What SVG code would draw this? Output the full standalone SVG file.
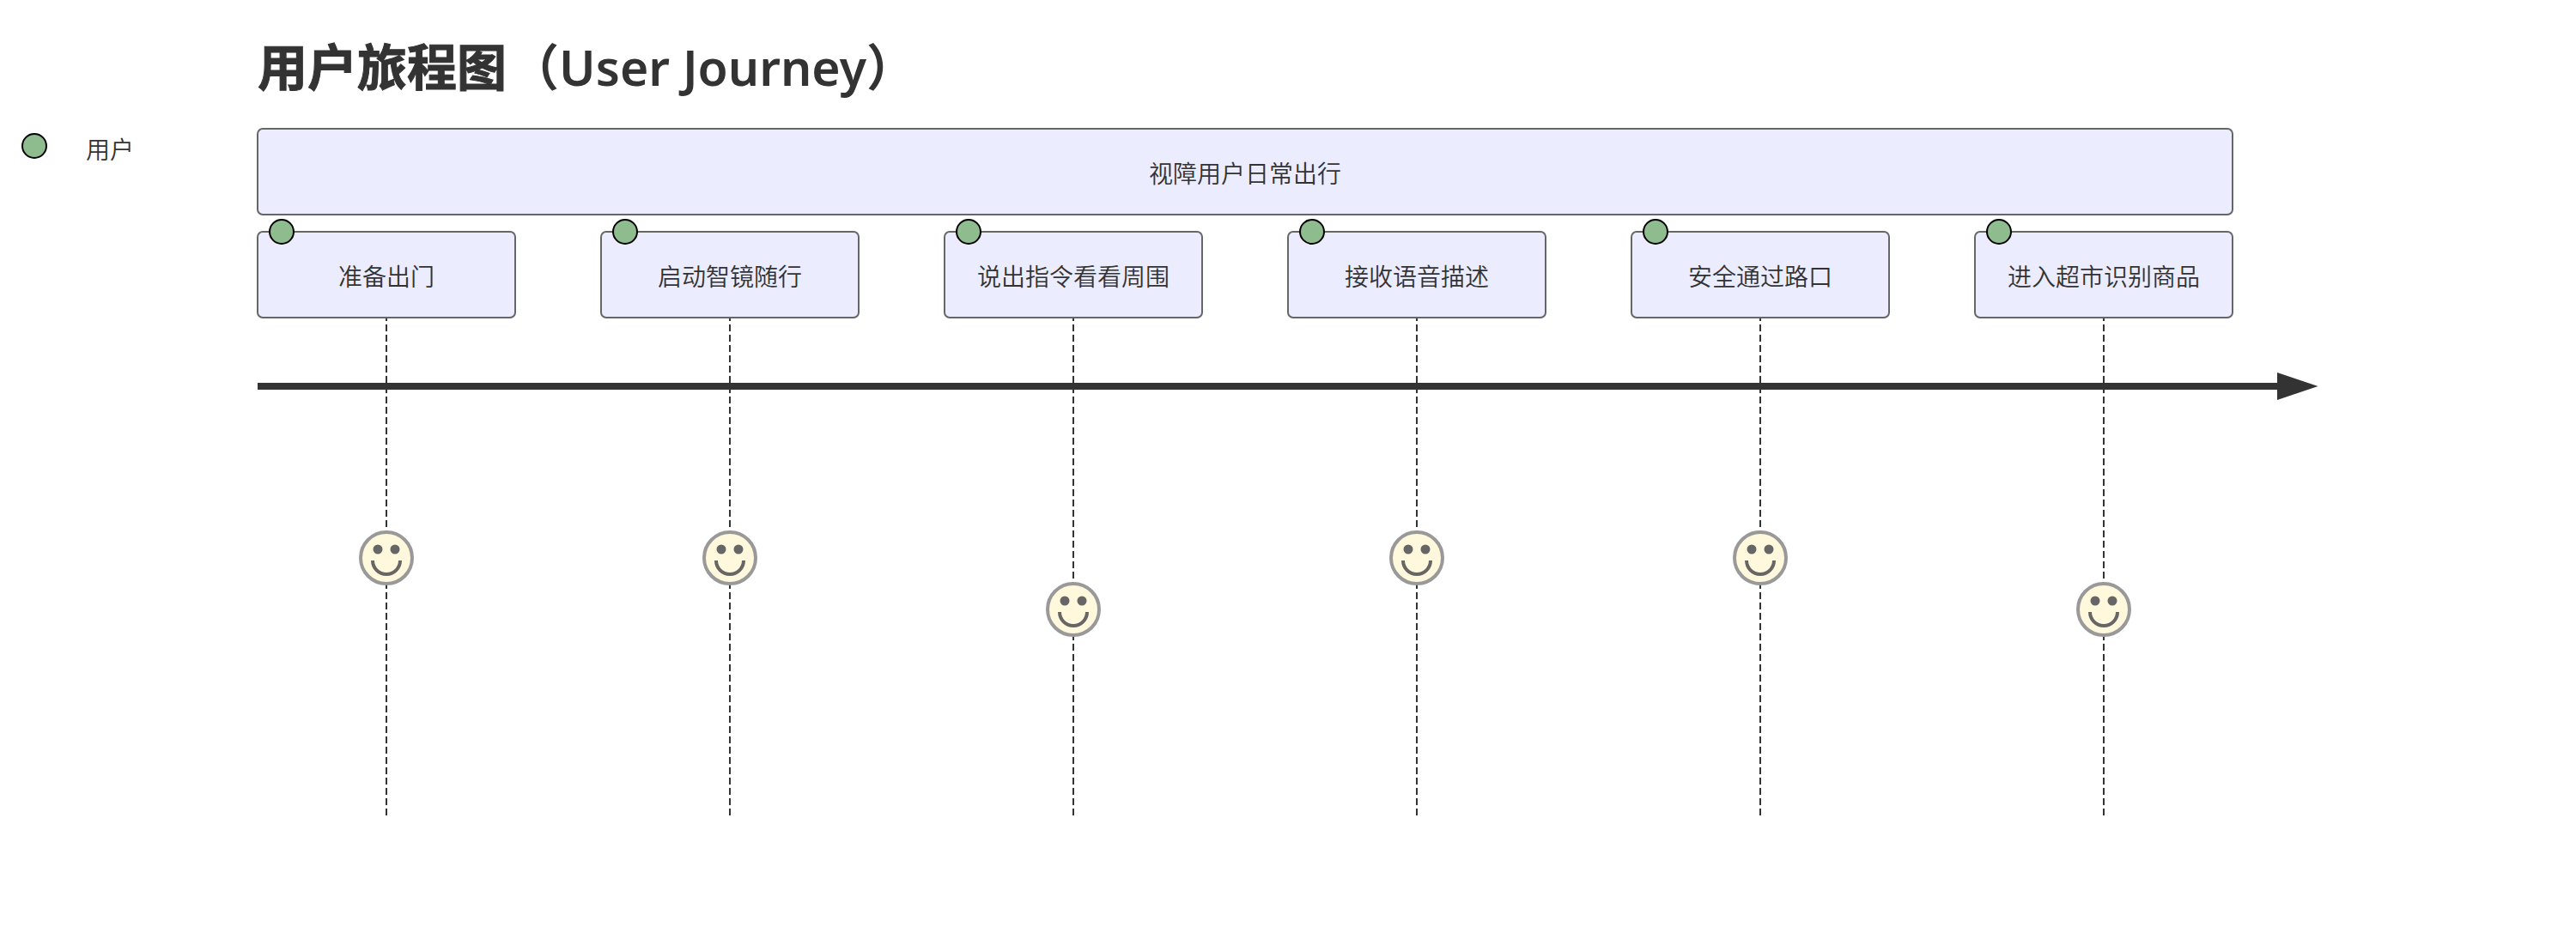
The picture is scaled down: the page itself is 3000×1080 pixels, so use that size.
<svg xmlns="http://www.w3.org/2000/svg" width="3000" height="1080" viewBox="0 0 3000 1080">
<style>
text{fill:#333}
.t{font-size:28px;font-weight:350;text-anchor:middle;font-family:"Noto Sans CJK SC",sans-serif}
.title{font-size:58px;font-family:"Noto Sans CJK SC",sans-serif}
.cjk{font-weight:700;stroke:#333;stroke-width:1}
.lat{font-weight:600;font-family:"Noto Sans","Noto Sans CJK SC",sans-serif}
.box{fill:#ECECFF;stroke:#666;stroke-width:2}
.dot{fill:#8FBC8F;stroke:#000;stroke-width:2}
.act{stroke:#333;stroke-width:2;stroke-dasharray:8 4;fill:none}
.face{fill:#FFF8DC;stroke:#999;stroke-width:4}
.eye{fill:#666}
.smile{fill:none;stroke:#666;stroke-width:4}
</style>
<defs>
<marker id="arrow" markerUnits="userSpaceOnUse" markerWidth="48" markerHeight="32" refX="0" refY="16" orient="auto"><path d="M0 0L47.5 16L0 32Z" fill="#333"/></marker>
<g id="happy"><circle class="face" r="30"/><circle class="eye" cx="-10" cy="-10" r="5.5"/><circle class="eye" cx="10" cy="-10" r="5.5"/><path class="smile" d="M-16 3A16 16 0 0 0 16 3"/></g>
</defs>
<text class="title" x="300" y="100"><tspan class="cjk">用户旅程图</tspan><tspan class="lat" x="594" textLength="472" lengthAdjust="spacingAndGlyphs">（User Journey）</tspan></text>
<g id="legend"><circle class="dot" cx="40" cy="170" r="14"/><text class="t" x="128" y="185">用户</text></g>
<g id="connectors">
<path class="act" d="M450 270V950"/><path class="act" d="M850 270V950"/><path class="act" d="M1250 270V950"/><path class="act" d="M1650 270V950"/><path class="act" d="M2050 270V950"/><path class="act" d="M2450 270V950"/>
<path d="M300 450H2652" stroke="#333" stroke-width="8" fill="none" marker-end="url(#arrow)"/>
</g>
<g id="section"><rect class="box" x="300" y="150" width="2300" height="100" rx="6"/><text class="t" x="1450" y="213">视障用户日常出行</text></g>
<g id="task1"><rect class="box" x="300" y="270" width="300" height="100" rx="6"/><circle class="dot" cx="328" cy="270" r="14"/><text class="t" x="450" y="333">准备出门</text><use href="#happy" x="450" y="650"/></g>
<g id="task2"><rect class="box" x="700" y="270" width="300" height="100" rx="6"/><circle class="dot" cx="728" cy="270" r="14"/><text class="t" x="850" y="333">启动智镜随行</text><use href="#happy" x="850" y="650"/></g>
<g id="task3"><rect class="box" x="1100" y="270" width="300" height="100" rx="6"/><circle class="dot" cx="1128" cy="270" r="14"/><text class="t" x="1250" y="333">说出指令看看周围</text><use href="#happy" x="1250" y="710"/></g>
<g id="task4"><rect class="box" x="1500" y="270" width="300" height="100" rx="6"/><circle class="dot" cx="1528" cy="270" r="14"/><text class="t" x="1650" y="333">接收语音描述</text><use href="#happy" x="1650" y="650"/></g>
<g id="task5"><rect class="box" x="1900" y="270" width="300" height="100" rx="6"/><circle class="dot" cx="1928" cy="270" r="14"/><text class="t" x="2050" y="333">安全通过路口</text><use href="#happy" x="2050" y="650"/></g>
<g id="task6"><rect class="box" x="2300" y="270" width="300" height="100" rx="6"/><circle class="dot" cx="2328" cy="270" r="14"/><text class="t" x="2450" y="333">进入超市识别商品</text><use href="#happy" x="2450" y="710"/></g>
</svg>
